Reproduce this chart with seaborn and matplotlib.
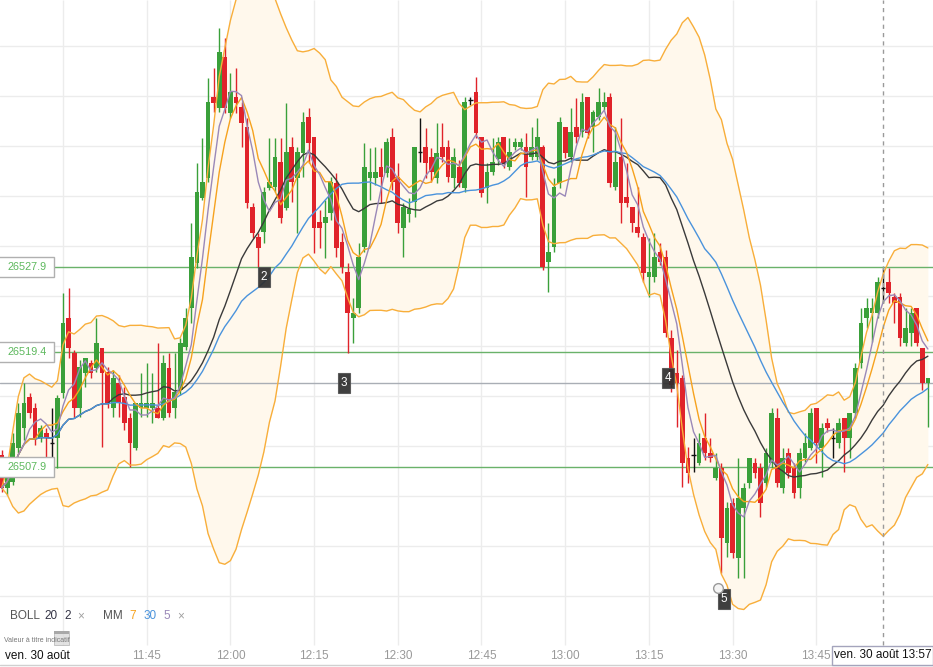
import numpy as np
import pandas as pd
import matplotlib
matplotlib.use("Agg")
import matplotlib.pyplot as plt
import matplotlib.transforms as mtrans
from matplotlib.patches import Rectangle
import seaborn as sns

# 1-minute candles, first one at 11:19
first_minute = 11 * 60 + 19

opens = [
    26509.1, 26505.8, 26506.4, 26509.8, 26511.8, 26514.9, 26513.8, 26510.8, 26511.3, 26510.3,
    26510.8, 26515.3, 26522.8, 26519.3, 26513.8, 26517.3, 26518.3, 26517.8, 26519.8, 26517.4,
    26513.8, 26516.3, 26514.9, 26512.8, 26509.8, 26513.9, 26513.9, 26513.9, 26513.8, 26512.8,
    26517.8, 26513.8, 26515.6, 26519.9, 26523.8, 26528.3, 26534.8, 26536.8, 26544.9, 26543.8,
    26548.9, 26543.3, 26544.9, 26543.9, 26541.9, 26533.9, 26530.9, 26531.4, 26535.8, 26535.9,
    26538.4, 26533.8, 26539.9, 26536.8, 26539.3, 26542.9, 26540.9, 26532.4, 26532.3, 26533.3,
    26536.3, 26530.4, 26527.4, 26522.8, 26523.8, 26529.9, 26536.8, 26536.8, 26537.9, 26537.3,
    26540.9, 26536.9, 26531.8, 26533.3, 26534.4, 26539.4, 26539.9, 26538.9, 26536.8, 26539.9,
    26539.9, 26536.8, 26537.9, 26535.8, 26544.6, 26545.4, 26540.9, 26535.8, 26537.4, 26538.7,
    26540.9, 26537.9, 26539.9, 26539.9, 26539.9, 26538.9, 26538.9, 26539.9, 26528.4, 26529.9,
    26536.3, 26541.9, 26538.9, 26541.9, 26541.4, 26544.9, 26541.9, 26542.9, 26543.9, 26544.9,
    26535.9, 26538.9, 26534.9, 26533.9, 26531.9, 26530.9, 26526.9, 26526.9, 26529.4, 26528.9,
    26520.8, 26517.3, 26516.8, 26508.8, 26509.1, 26508.3, 26510.8, 26509.3, 26506.8, 26507.8,
    26500.3, 26504.3, 26498.8, 26503.8, 26506.3, 26508.3, 26507.8, 26506.3, 26508.3, 26512.8,
    26505.8, 26509.3, 26507.8, 26505.8, 26508.8, 26509.8, 26513.8, 26509.8, 26512.3, 26510.8,
    26510.3, 26512.8, 26510.8, 26513.3, 26518.3, 26522.8, 26523.3, 26523.3, 26525.8, 26526.4,
    26524.9, 26524.9, 26520.3, 26521.3, 26523.8, 26519.8, 26516.3,
]
highs = [
    26509.6, 26507.6, 26511.3, 26514.3, 26516.3, 26515.3, 26514.3, 26512.1, 26511.8, 26513.8,
    26515.1, 26525.3, 26525.8, 26519.6, 26518.6, 26518.8, 26518.6, 26522.8, 26519.8, 26517.9,
    26517.6, 26517.1, 26515.9, 26513.3, 26514.3, 26517.3, 26518.3, 26517.3, 26520.3, 26519.1,
    26519.3, 26519.3, 26520.8, 26523.8, 26532.3, 26538.3, 26540.8, 26546.8, 26547.8, 26551.8,
    26550.8, 26547.3, 26547.8, 26544.4, 26542.8, 26534.3, 26531.3, 26535.9, 26540.8, 26540.8,
    26540.8, 26544.3, 26540.9, 26539.9, 26543.4, 26543.8, 26540.9, 26533.6, 26534.6, 26536.9,
    26537.3, 26531.3, 26528.3, 26524.8, 26530.3, 26540.3, 26539.8, 26539.9, 26539.8, 26540.8,
    26541.8, 26538.3, 26534.3, 26534.8, 26539.9, 26542.8, 26541.8, 26539.8, 26542.3, 26542.3,
    26540.6, 26539.8, 26538.6, 26544.9, 26544.9, 26546.9, 26540.9, 26538.3, 26540.8, 26540.9,
    26540.9, 26540.8, 26540.8, 26540.8, 26541.3, 26541.9, 26542.8, 26540.1, 26532.3, 26536.8,
    26542.9, 26541.9, 26543.8, 26544.8, 26545.3, 26544.9, 26543.6, 26545.8, 26545.4, 26545.3,
    26541.9, 26542.8, 26538.3, 26533.9, 26535.9, 26531.3, 26530.8, 26531.3, 26530.3, 26529.6,
    26521.6, 26519.6, 26517.1, 26509.9, 26510.8, 26511.3, 26513.3, 26510.8, 26509.3, 26508.3,
    26504.4, 26504.8, 26508.8, 26506.3, 26508.8, 26508.8, 26508.3, 26509.8, 26513.8, 26513.8,
    26509.8, 26509.8, 26508.3, 26509.8, 26511.3, 26513.8, 26513.8, 26512.3, 26512.8, 26511.8,
    26512.8, 26512.8, 26513.3, 26518.3, 26523.8, 26524.8, 26524.8, 26526.9, 26527.8, 26527.8,
    26525.3, 26525.3, 26523.8, 26523.8, 26523.8, 26519.8, 26516.8,
]
lows = [
    26505.4, 26505.1, 26506.1, 26509.3, 26510.6, 26512.8, 26510.1, 26510.4, 26508.6, 26508.9,
    26507.8, 26514.8, 26518.8, 26512.9, 26512.9, 26515.9, 26516.8, 26517.4, 26509.9, 26513.8,
    26512.9, 26512.9, 26511.6, 26507.9, 26509.6, 26512.9, 26512.9, 26512.3, 26512.8, 26512.6,
    26512.9, 26512.8, 26515.1, 26519.6, 26522.3, 26527.8, 26534.6, 26536.4, 26543.4, 26543.4,
    26543.3, 26542.8, 26543.3, 26539.9, 26533.8, 26530.8, 26527.9, 26530.3, 26535.6, 26535.4,
    26532.3, 26533.6, 26534.4, 26531.3, 26536.9, 26538.3, 26529.3, 26529.8, 26528.8, 26532.6,
    26528.9, 26527.3, 26519.3, 26520.3, 26523.3, 26529.4, 26534.6, 26536.1, 26534.3, 26536.9,
    26535.6, 26531.3, 26528.9, 26532.4, 26532.9, 26538.4, 26536.8, 26536.4, 26536.3, 26538.4,
    26536.4, 26535.8, 26535.9, 26535.4, 26544.1, 26540.8, 26534.9, 26534.3, 26537.1, 26538.1,
    26537.8, 26537.6, 26539.6, 26539.6, 26534.9, 26538.6, 26538.6, 26527.6, 26525.4, 26529.4,
    26535.8, 26538.8, 26538.4, 26540.3, 26540.9, 26540.8, 26539.4, 26542.6, 26543.6, 26535.9,
    26535.6, 26532.3, 26533.9, 26531.4, 26530.9, 26526.4, 26524.9, 26526.4, 26528.1, 26520.9,
    26515.4, 26511.9, 26505.9, 26506.3, 26507.4, 26508.1, 26508.6, 26508.4, 26506.6, 26497.3,
    26498.9, 26498.8, 26496.8, 26496.8, 26505.8, 26506.8, 26502.9, 26505.9, 26507.8, 26505.9,
    26505.3, 26506.8, 26504.8, 26504.8, 26508.4, 26509.6, 26508.3, 26506.9, 26511.4, 26508.8,
    26509.8, 26507.4, 26508.8, 26512.8, 26517.8, 26521.8, 26520.4, 26522.8, 26524.3, 26524.3,
    26522.3, 26520.0, 26520.0, 26520.0, 26520.0, 26515.6, 26511.9,
]
closes = [
    26505.8, 26507.1, 26510.3, 26513.3, 26514.3, 26513.3, 26510.8, 26511.8, 26510.8, 26510.3,
    26514.8, 26522.3, 26519.8, 26513.8, 26517.9, 26518.8, 26517.3, 26520.3, 26517.3, 26514.3,
    26516.8, 26514.3, 26512.3, 26510.3, 26514.3, 26514.3, 26514.3, 26514.3, 26512.8, 26518.3,
    26513.3, 26515.4, 26520.3, 26522.8, 26528.9, 26535.4, 26536.4, 26544.4, 26544.3, 26549.4,
    26543.8, 26545.4, 26544.3, 26542.3, 26534.3, 26531.3, 26529.8, 26535.4, 26536.4, 26538.9,
    26532.8, 26539.4, 26536.4, 26539.4, 26542.4, 26540.3, 26531.8, 26531.8, 26532.9, 26536.4,
    26529.8, 26527.9, 26523.3, 26523.3, 26528.9, 26537.9, 26537.4, 26537.4, 26536.9, 26540.4,
    26536.4, 26532.3, 26533.9, 26533.6, 26539.9, 26539.4, 26538.3, 26537.4, 26539.3, 26538.9,
    26536.9, 26538.9, 26536.3, 26544.4, 26544.6, 26541.3, 26535.3, 26537.4, 26538.4, 26540.4,
    26538.3, 26539.4, 26540.4, 26540.4, 26537.9, 26539.9, 26540.9, 26527.9, 26529.4, 26535.9,
    26542.4, 26539.3, 26541.4, 26540.9, 26544.4, 26541.3, 26543.4, 26544.4, 26544.4, 26536.3,
    26538.4, 26534.3, 26534.3, 26532.3, 26531.3, 26527.3, 26527.4, 26528.9, 26528.4, 26521.3,
    26516.1, 26516.3, 26508.3, 26507.3, 26509.1, 26510.3, 26509.3, 26508.8, 26507.8, 26500.8,
    26503.8, 26499.3, 26504.8, 26505.8, 26508.8, 26507.3, 26504.3, 26509.3, 26513.3, 26506.3,
    26508.8, 26507.3, 26505.3, 26509.3, 26510.3, 26513.3, 26510.3, 26511.8, 26511.8, 26510.8,
    26512.3, 26510.8, 26513.3, 26517.8, 26522.3, 26523.8, 26523.8, 26526.4, 26525.8, 26525.3,
    26524.3, 26520.8, 26521.8, 26523.3, 26520.3, 26516.3, 26516.8,
]

# horizontal levels drawn on the chart
green_levels = [26527.9, 26519.4, 26507.9]
gray_level = 26516.3

# numbered markers (minute of day, price)
marker_names = ["2", "3", "4", "5"]
marker_times = [726.0, 740.4, 798.4, 808.5]
marker_prices = [26526.9, 26516.3, 26516.85, 26494.7]

tick_minutes = [11 * 60 + 30 + 15 * k for k in range(10)]
tick_labels = ["", "11:45", "12:00", "12:15", "12:30", "12:45", "13:00", "13:15", "13:30", "13:45"]
cursor_minute = 13 * 60 + 57

GREEN = "#3aa03a"
RED = "#e0232a"
BAND = "#f8ae3a"

sns.set_style("white")
plt.rcParams["font.family"] = ["Liberation Sans", "DejaVu Sans"]

df = pd.DataFrame({"o": opens, "h": highs, "l": lows, "c": closes})
df["t"] = first_minute + np.arange(len(df))
df["mid"] = df["c"].rolling(20, min_periods=1).mean()
sd = df["c"].rolling(20, min_periods=1).std(ddof=0)
df["up"] = df["mid"] + 2 * sd
df["dn"] = df["mid"] - 2 * sd
df["mm7"] = df["c"].rolling(7, min_periods=1).mean()
df["mm30"] = df["c"].rolling(30, min_periods=1).mean()
df["mm5"] = df["c"].rolling(5, min_periods=1).mean()

W, H = 933, 667
px = 5.58  # pixels per minute
x0 = first_minute - 1.6 / px
y_top = 26554.6

fig = plt.figure(figsize=(W / 100, H / 100), dpi=100)
ax = fig.add_axes([0, 0, 1, 1])

y_grid_bottom = y_top - 64.5
# grid
for p in np.arange(26495, 26555, 5):
    ax.axhline(p, color="#ececec", lw=1, zorder=0)
ax.vlines(tick_minutes, y_grid_bottom, y_top, color="#ececec", lw=1, zorder=0)

# bollinger fill
ax.fill_between(df["t"], df["dn"], df["up"], color="#fff8ec", lw=0, zorder=1)

# levels
for lv in green_levels:
    ax.axhline(lv, color="#6ab26a", lw=1, zorder=2)
ax.axhline(gray_level, color="#a9aeb5", lw=1, zorder=2)

# candles
up = df["c"] > df["o"]
dn = df["c"] < df["o"]
flat = df["c"] == df["o"]
cols = np.where(up, GREEN, np.where(dn, RED, "#111111"))
ax.vlines(df["t"], df["l"], df["h"], colors=cols, lw=1, zorder=3)
gap = (df["c"] - df["o"]).abs()
body_h = np.maximum(gap, 0.5)
body_lo = np.where(gap < 0.5, (df["o"] + df["c"]) / 2 - 0.25, np.minimum(df["o"], df["c"]))
mask = ~flat
ax.bar(df["t"][mask], body_h[mask], bottom=body_lo[mask], width=0.85,
       color=cols[mask], lw=0, zorder=4)
ax.hlines(df["c"][flat], df["t"][flat] - 0.4, df["t"][flat] + 0.4, color="#111111", lw=1, zorder=4)

# indicator lines
for col, color in [("up", BAND), ("dn", BAND), ("mid", "#3a3a3a"),
                   ("mm30", "#4a93dc"), ("mm7", "#f6a21e"), ("mm5", "#9a88b8")]:
    sns.lineplot(data=df, x="t", y=col, ax=ax, color=color, linewidth=1.0,
                 legend=False, zorder=5)
ax.set_xlim(x0, x0 + W / px)
ax.set_ylim(y_top - H / 10, y_top)
ax.set_axis_off()

# price labels on the left
trans_ly = mtrans.blended_transform_factory(ax.transAxes, ax.transData)
for lv in green_levels:
    ax.add_patch(Rectangle((-0.002, lv - 1.0), 56 / W, 2.0, transform=trans_ly,
                           fc="white", ec="#b0b0b0", lw=1, zorder=7))
    ax.text(7 / W, lv, f"{lv:.1f}", transform=trans_ly, ha="left", va="center",
            fontsize=7.8, color="#5cb85c", zorder=8)

# numbered markers
for name, t, p in zip(marker_names, marker_times, marker_prices):
    ax.add_patch(Rectangle((t - 1.08, p - 1.0), 2.16, 2.0, fc="#2e2e2e", ec="#555555",
                           lw=0.8, alpha=0.92, zorder=9))
    ax.text(t, p - 0.05, name, ha="center", va="center", fontsize=8.5, color="white", zorder=10)
ax.plot([807.4], [26495.8], marker="o", ms=7, mfc="#f4f4f4", mec="#9a9a9a", mew=1, zorder=11)

# crosshair
ax.vlines(cursor_minute, y_grid_bottom, y_top, color="#9a9a9a", lw=1, linestyles=(0, (3, 3)), zorder=6)

# time labels
trans_xb = mtrans.blended_transform_factory(ax.transData, ax.transAxes)
for t, lab in zip(tick_minutes, tick_labels):
    if lab:
        ax.text(t, 1 - 656 / H, lab, transform=trans_xb, ha="center", va="center",
                fontsize=8.5, color="#999999")
ax.axhline(y_top - 66.5, color="#d0d0d0", lw=1)

# bottom-left texts
fig.text(5 / W, 1 - 656 / H, "ven. 30 août", ha="left", va="center", fontsize=8.5, color="#111111")
fig.text(4 / W, 1 - 641 / H, "Valeur à titre indicatif", ha="left", va="center", fontsize=5, color="#777777")
fig.patches.append(Rectangle((54 / W, 1 - 645 / H), 15 / W, 14 / H, transform=fig.transFigure,
                             fc="#d9d9d9", ec="#aaaaaa", lw=0.6, alpha=0.75))
fig.patches.append(Rectangle((54 / W, 1 - 634 / H), 15 / W, 3 / H, transform=fig.transFigure,
                             fc="#a8a8a8", ec="none"))

legend_items = [("BOLL", 10, "#555555"), ("20", 44, "#333344"), ("2", 64, "#333344"),
                ("×", 77, "#a0a0a0"), ("MM", 103, "#555555"), ("7", 129, "#f6a21e"),
                ("30", 144, "#4a93dc"), ("5", 163, "#9a88b8"), ("×", 177, "#a0a0a0")]
for txt, x, c in legend_items:
    fig.text(x / W, 1 - 616 / H, txt, ha="left", va="center", fontsize=8.5, color=c)

# cursor date box
ax.add_patch(Rectangle((832 / W, 1 - 665 / H), 101 / W, 19 / H, transform=ax.transAxes,
                       fc="white", ec="#a4a4bc", lw=1, zorder=12))
ax.text(cursor_minute, 1 - 655.5 / H, "ven. 30 août 13:57", transform=trans_xb,
        ha="center", va="center", fontsize=8.5, color="#111111", zorder=13)

fig.savefig("out.png", dpi=100)
